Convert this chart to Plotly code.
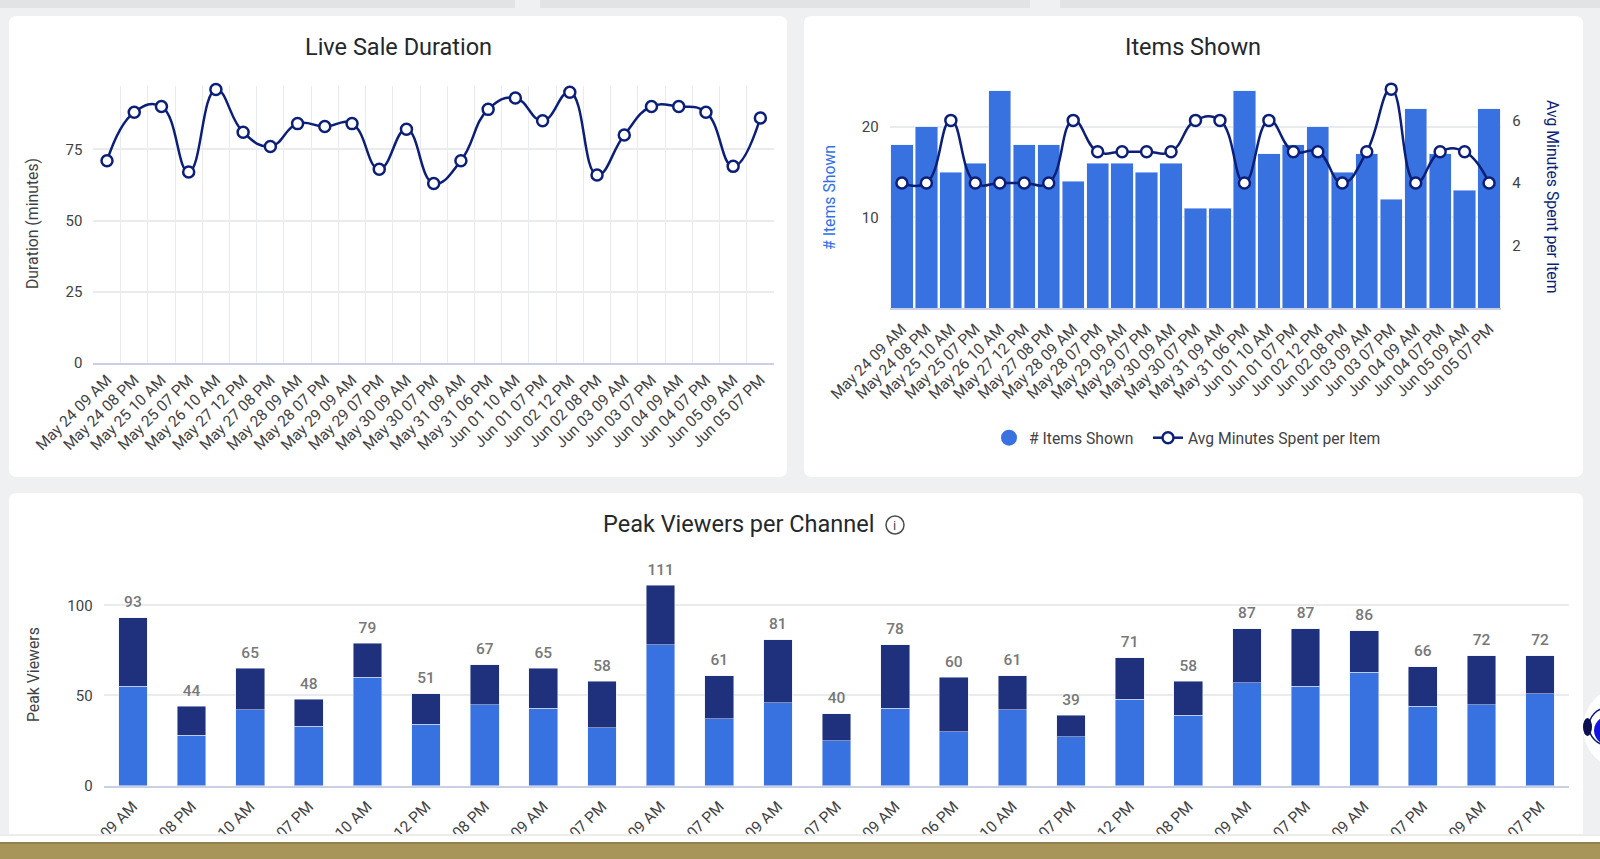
import plotly.graph_objects as go

W = 1600
H = 859

labels = ["May 24 09 AM", "May 24 08 PM", "May 25 10 AM", "May 25 07 PM", "May 26 10 AM", "May 27 12 PM",
          "May 27 08 PM", "May 28 09 AM", "May 28 07 PM", "May 29 09 AM", "May 29 07 PM", "May 30 09 AM",
          "May 30 07 PM", "May 31 09 AM", "May 31 06 PM", "Jun 01 10 AM", "Jun 01 07 PM", "Jun 02 12 PM",
          "Jun 02 08 PM", "Jun 03 09 AM", "Jun 03 07 PM", "Jun 04 09 AM", "Jun 04 07 PM", "Jun 05 09 AM",
          "Jun 05 07 PM"]

duration = [71, 88, 90, 67, 96, 81, 76, 84, 83, 84, 68, 82, 63, 71, 89, 93, 85, 95, 66, 80, 90, 90, 88, 69, 86]
items_shown = [18, 20, 15, 16, 24, 18, 18, 14, 16, 16, 15, 16, 11, 11, 24, 17, 18, 20, 15, 17, 12, 22, 17, 13, 22]
avg_minutes = [4, 4, 6, 4, 4, 4, 4, 6, 5, 5, 5, 5, 6, 6, 4, 6, 5, 5, 4, 5, 7, 4, 5, 5, 4]
viewers_lower = [55, 28, 42, 33, 60, 34, 45, 43, 32, 78, 37, 46, 25, 43, 30, 42, 27, 48, 39, 57, 55, 63, 44, 45, 51]
viewers_upper = [38, 16, 23, 15, 19, 17, 22, 22, 26, 33, 24, 35, 15, 35, 30, 19, 12, 23, 19, 30, 32, 23, 22, 27, 21]
viewers_total = [93, 44, 65, 48, 79, 51, 67, 65, 58, 111, 61, 81, 40, 78, 60, 61, 39, 71, 58, 87, 87, 86, 66, 72, 72]

BLUE = "#3871e0"
DARK_BLUE = "#1f307c"
NAVY = "#0c1f78"
GRID = "#e9ebef"
AXIS = "#c9d0e6"
TICK = "#3f4246"
FONT = "Roboto"


def px(x):
    return x / W


def py(y):
    return 1 - y / H


def dom_x(a, b):
    return [px(a), px(b)]


def dom_y(top, bottom):
    return [py(bottom), py(top)]


def rect(x0, y0, x1, y1, color, layer="below"):
    return dict(type="rect", xref="paper", yref="paper", x0=px(x0), x1=px(x1), y0=py(y0), y1=py(y1),
                fillcolor=color, line_width=0, layer=layer)


def card(x0, y0, x1, y1, r=8):
    path = (f"M {px(x0 + r)} {py(y0)} L {px(x1 - r)} {py(y0)} Q {px(x1)} {py(y0)} {px(x1)} {py(y0 + r)} "
            f"L {px(x1)} {py(y1 - r)} Q {px(x1)} {py(y1)} {px(x1 - r)} {py(y1)} "
            f"L {px(x0 + r)} {py(y1)} Q {px(x0)} {py(y1)} {px(x0)} {py(y1 - r)} "
            f"L {px(x0)} {py(y0 + r)} Q {px(x0)} {py(y0)} {px(x0 + r)} {py(y0)} Z")
    return dict(type="path", xref="paper", yref="paper", path=path, fillcolor="white", line_width=0, layer="below")


def oval(x0, y0, x1, y1, fill, line=None, layer="above"):
    return dict(type="circle", xref="paper", yref="paper", x0=px(x0), x1=px(x1), y0=py(y0), y1=py(y1),
                fillcolor=fill, line=dict(color=line or fill, width=1.5 if line else 0), layer=layer)


def text(x, y, s, size=15, color=TICK, angle=0):
    return dict(xref="paper", yref="paper", x=px(x), y=py(y), text=s, showarrow=False, textangle=angle,
                font=dict(family=FONT, size=size, color=color), xanchor="center", yanchor="middle")


def legend_at(x):
    return dict(orientation="h", x=px(x), y=py(438), xanchor="left", yanchor="middle", bgcolor="rgba(0,0,0,0)",
                font=dict(family=FONT, size=15.7, color=TICK))


def x_axis(domain, anchor, vgrid=False, ticklen=8):
    return dict(domain=domain, anchor=anchor, type="category", categoryorder="array", categoryarray=labels,
                range=[-0.5, 24.5], tickmode="array", tickvals=labels, ticktext=labels, tickangle=-45,
                automargin=False, tickfont=dict(family=FONT, size=15.5, color=TICK), ticks="outside",
                ticklen=ticklen, tickcolor="rgba(0,0,0,0)", tickson="boundaries" if vgrid else "labels",
                showgrid=vgrid, gridcolor=GRID, gridwidth=1.2, showline=True, linecolor=AXIS, linewidth=1.5)


def y_axis(domain, anchor, rng, vals, grid=True):
    return dict(domain=domain, anchor=anchor, range=rng, tickmode="array", tickvals=vals, automargin=False,
                tickfont=dict(family=FONT, size=15, color=TICK), ticks="outside", ticklen=7,
                tickcolor="rgba(0,0,0,0)", showgrid=grid, gridcolor=GRID, gridwidth=1.5, zeroline=False,
                showline=False)


fig = go.Figure()

fig.add_trace(go.Scatter(x=labels, y=duration, mode="lines+markers", name="Duration", xaxis="x", yaxis="y",
                         line=dict(color=NAVY, width=2.5, shape="spline", smoothing=1.3),
                         marker=dict(size=11, color="white", line=dict(color=NAVY, width=2.5)),
                         cliponaxis=False, showlegend=False))

fig.add_trace(go.Bar(x=labels, y=items_shown, name="# Items Shown", xaxis="x2", yaxis="y2",
                     marker_color=BLUE, width=0.91, showlegend=False))
# bars only get a square in the legend, the reference has a round dot
fig.add_trace(go.Scatter(x=[None], y=[None], mode="markers", name="# Items Shown", xaxis="x2", yaxis="y2",
                         marker=dict(size=16, color=BLUE, symbol="circle"), legend="legend"))
fig.add_trace(go.Scatter(x=labels, y=avg_minutes, mode="lines+markers", name="Avg Minutes Spent per Item",
                         xaxis="x2", yaxis="y3", line=dict(color=NAVY, width=2.5, shape="spline", smoothing=1.3),
                         marker=dict(size=11, color="white", line=dict(color=NAVY, width=2.5)),
                         cliponaxis=False, legend="legend2"))

fig.add_trace(go.Bar(x=labels, y=viewers_lower, xaxis="x3", yaxis="y4", marker_color=BLUE, width=0.49,
                     showlegend=False))
fig.add_trace(go.Bar(x=labels, y=viewers_upper, xaxis="x3", yaxis="y4", marker_color=DARK_BLUE, width=0.49,
                     showlegend=False))
# invisible markers push the totals a bit further above the bars
fig.add_trace(go.Scatter(x=labels, y=viewers_total, mode="markers+text", text=viewers_total,
                         textposition="top center", xaxis="x3", yaxis="y4", showlegend=False, cliponaxis=False,
                         marker=dict(size=9, opacity=0),
                         textfont=dict(family=FONT, size=15.5, color="#77787a", weight=500)))

shapes = [
    rect(0, 0, 515, 8, "#e2e3e5"),
    rect(540, 0, 1030, 8, "#e2e3e5"),
    rect(1060, 0, W, 8, "#e2e3e5"),
    card(9, 16, 787, 477),
    card(804, 16, 1583, 477),
    card(9, 493, 1583, 900),
    # info icon next to the title
    oval(886, 516, 904, 534, "rgba(0,0,0,0)", "#4a4d50", layer="below"),
    # bottom of the page covers the axis labels
    rect(0, 834, W, 836, "#ececec", "above"),
    rect(0, 836, W, 842, "#ffffff", "above"),
    rect(0, 842, W, 844, "#8f8250", "above"),
    rect(0, 844, W, H, "#a8955a", "above"),
    # chat widget on the right edge
    oval(1583, 687, 1665, 769, "#ffffff"),
    oval(1589, 708, 1625, 745, "rgba(0,0,0,0)", "#0c1f78"),
    oval(1583, 718, 1592, 736, "#0c1050"),
    oval(1594, 713, 1640, 748, "#1414e0"),
]

annotations = [
    text(398, 47, "Live Sale Duration", size=23.5, color="#24282c"),
    text(1193, 47, "Items Shown", size=23.5, color="#24282c"),
    text(738, 524, "Peak Viewers per Channel", size=23.5, color="#24282c"),
    text(895, 525, "i", size=13, color="#4a4d50"),
    text(33, 224, "Duration (minutes)", size=15.8, angle=-90),
    text(829, 197, "# Items Shown", size=15.8, color="#2f6fe8", angle=-90),
    text(1553, 197, "Avg Minutes Spent per Item", size=15.8, color=NAVY, angle=90),
    text(33, 675, "Peak Viewers", size=15.8, angle=-90),
]

fig.update_layout(
    width=W,
    height=H,
    autosize=False,
    margin=dict(l=0, r=0, t=0, b=0),
    paper_bgcolor="#eef0f2",
    plot_bgcolor="rgba(0,0,0,0)",
    barmode="stack",
    font=dict(family=FONT, color=TICK),
    shapes=shapes,
    annotations=annotations,
    legend=legend_at(989),
    legend2=legend_at(1148),
    xaxis=x_axis(dom_x(93.4, 774), "y", vgrid=True),
    yaxis=y_axis(dom_y(86, 363), "x", [0, 97.2], [0, 25, 50, 75]),
    xaxis2=x_axis(dom_x(889.7, 1501.3), "y2", ticklen=4),
    yaxis2=y_axis(dom_y(86, 308), "x2", [0, 24.5], [10, 20]),
    yaxis3=dict(y_axis(dom_y(86, 308), "x2", [0, 7.1], [2, 4, 6], grid=False), overlaying="y2", side="right"),
    xaxis3=x_axis(dom_x(103.6, 1569.4), "y4", ticklen=4),
    yaxis4=y_axis(dom_y(569.2, 785.7), "x3", [0, 120], [0, 50, 100]),
)

fig.write_html("out.html", config=dict(displayModeBar=False),
               post_script="document.body.style.margin='0';document.body.style.overflow='hidden';")
